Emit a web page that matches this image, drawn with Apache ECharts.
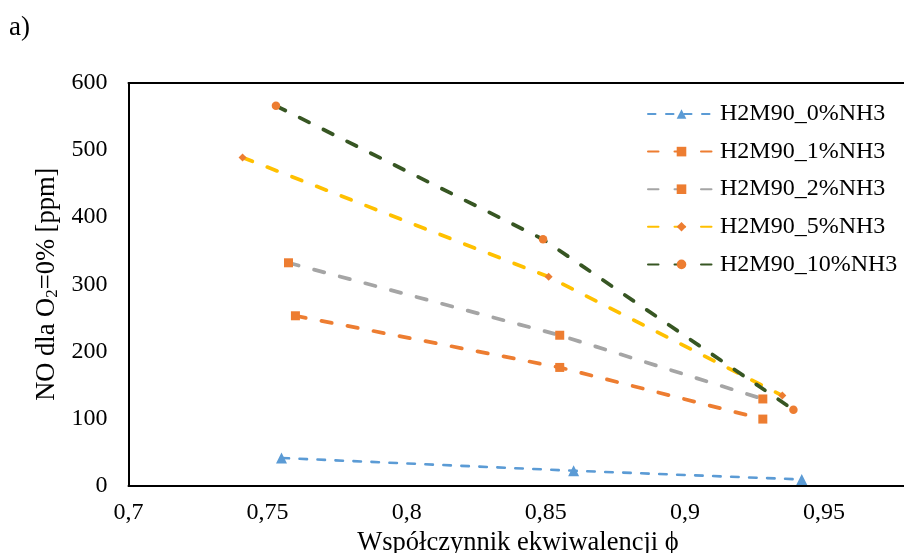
<!DOCTYPE html>
<html>
<head>
<meta charset="utf-8">
<script src="https://cdn.jsdelivr.net/npm/echarts@6/dist/echarts.min.js"></script>
<style>
  html, body { margin: 0; padding: 0; background: #ffffff; }
  #chart { width: 904px; height: 553px; }
</style>
</head>
<body>
<div id="chart"></div>
<script>
// Series names (legend order)
const seriesNames = ['H2M90_0%NH3', 'H2M90_1%NH3', 'H2M90_2%NH3', 'H2M90_5%NH3', 'H2M90_10%NH3'];

// Equivalence ratio (phi) and NO concentration [ppm] per series
const phi0 = [0.755, 0.860, 0.942];
const no0 = [41, 22, 9];

const phi1 = [0.760, 0.855, 0.928];
const no1 = [253, 176, 99];

const phi2 = [0.7575, 0.855, 0.928];
const no2 = [332, 224, 129];

const phi5 = [0.741, 0.851, 0.935];
const no5 = [489, 311, 134];

const phi10 = [0.753, 0.849, 0.939];
const no10 = [566, 367, 113];

// Axis ranges
const xRange = [0.7, 0.98];
const xStep = 0.05;
const yRange = [0, 600];
const yStep = 100;

const FONT = "'Liberation Serif', 'Times New Roman', serif";
const FS = 24;        // tick labels and legend
const FS_TITLE = 26.5; // axis titles
const toPairs = (xs, ys) => xs.map((x, i) => [x, ys[i]]);

const chart = echarts.init(document.getElementById('chart'), null, { renderer: 'canvas' });

function lineSeries(name, xs, ys, lineColor, width, dash, symbol, symbolSize, markerColor) {
  return {
    name: name,
    type: 'line',
    data: toPairs(xs, ys),
    symbol: symbol,
    symbolSize: symbolSize,
    showAllSymbol: true,
    lineStyle: { color: lineColor, width: width, type: dash, cap: 'round' },
    itemStyle: { color: markerColor, borderWidth: 0 },
    emphasis: { disabled: true },
    animation: false,
    z: 3
  };
}

const option = {
  animation: false,
  backgroundColor: '#ffffff',
  grid: {
    left: 128.5,
    top: 83,
    width: 779,
    height: 402.5,
    containLabel: false,
    outerBoundsMode: 'none',
    show: false
  },
  graphic: [{
    type: 'text',
    left: 9,
    top: 14,
    style: { text: 'a)', font: '27px ' + FONT, fill: '#000000' }
  }],
  legend: {
    orient: 'vertical',
    left: 642,
    top: 97,
    itemWidth: 67,
    itemHeight: 12,
    itemGap: 13.6,
    data: seriesNames,
    textStyle: { fontFamily: FONT, fontSize: FS, color: '#000000', padding: [0, 0, 0, 0] }
  },
  xAxis: [{
    type: 'value',
    min: xRange[0],
    max: xRange[1],
    interval: xStep,
    name: 'Współczynnik ekwiwalencji ϕ',
    nameLocation: 'middle',
    nameGap: 42,
    nameTextStyle: { fontFamily: FONT, fontSize: FS_TITLE, color: '#000000' },
    axisLine: { show: true, lineStyle: { color: '#000000', width: 2 } },
    axisTick: { show: false },
    splitLine: { show: false },
    axisLabel: {
      margin: 15,
      showMaxLabel: false,
      fontFamily: FONT,
      fontSize: FS,
      color: '#000000',
      formatter: v => String(Math.round(v * 100) / 100).replace('.', ',')
    }
  }, {
    // top frame line of the plot area
    type: 'value',
    position: 'top',
    min: xRange[0],
    max: xRange[1],
    interval: xStep,
    axisLine: { show: true, onZero: false, lineStyle: { color: '#000000', width: 2 } },
    axisTick: { show: false },
    axisLabel: { show: false },
    splitLine: { show: false }
  }],
  yAxis: {
    type: 'value',
    min: yRange[0],
    max: yRange[1],
    interval: yStep,
    name: 'NO dla O{sub|2}=0% [ppm]',
    nameLocation: 'middle',
    nameGap: 65,
    nameTextStyle: {
      fontFamily: FONT,
      fontSize: FS_TITLE,
      color: '#000000',
      rich: {
        sub: { fontFamily: FONT, fontSize: 17, color: '#000000', padding: [11, 0, 0, 0] }
      }
    },
    axisLine: { show: true, lineStyle: { color: '#000000', width: 2 } },
    axisTick: { show: false },
    splitLine: { show: false },
    axisLabel: { margin: 21, fontFamily: FONT, fontSize: FS, color: '#000000' }
  },
  series: [
    lineSeries(seriesNames[0], phi0, no0, '#5B9BD5', 2.6, [7.5, 10.5], 'triangle', 11, '#5B9BD5'),
    lineSeries(seriesNames[1], phi1, no1, '#ED7D31', 3.75, [10.5, 16], 'rect', 9, '#ED7D31'),
    lineSeries(seriesNames[2], phi2, no2, '#A5A5A5', 3.75, [10.5, 16], 'rect', 9, '#ED7D31'),
    lineSeries(seriesNames[3], phi5, no5, '#FFC000', 3.75, [10.5, 16], 'diamond', 8, '#ED7D31'),
    lineSeries(seriesNames[4], phi10, no10, '#375623', 3.75, [10.5, 16], 'circle', 8.5, '#ED7D31')
  ]
};

chart.setOption(option);
</script>
</body>
</html>
